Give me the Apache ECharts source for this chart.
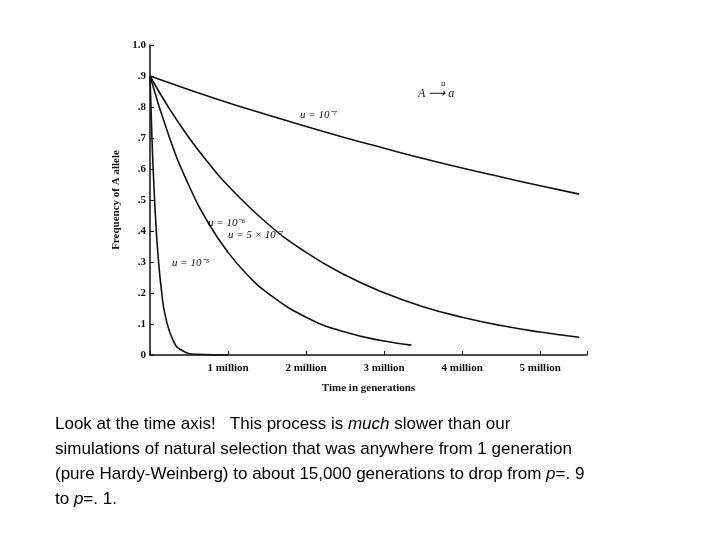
<!DOCTYPE html>
<html lang="en">
<head>
  <meta charset="UTF-8">
  <title>Mutation rate curves</title>
  <script src="https://cdn.jsdelivr.net/npm/echarts@6/dist/echarts.min.js"></script>
</head>
<body style="margin:0;background:#fff">
<div id="main" style="width:720px;height:540px"></div>
<script>
var tA = [0, 0.5, 1, 1.5, 2, 2.5, 3, 3.5, 4, 4.5, 5, 5.5];
var pA = [0.9, 0.856, 0.814, 0.775, 0.737, 0.701, 0.667, 0.634, 0.603, 0.574, 0.546, 0.519];
var tB = [0, 0.25, 0.5, 0.75, 1, 1.5, 2, 2.5, 3, 3.5, 4, 4.5, 5, 5.5];
var pB = [0.9, 0.794, 0.701, 0.619, 0.546, 0.425, 0.331, 0.258, 0.201, 0.156, 0.122, 0.095, 0.074, 0.057];
var tC = [0, 0.25, 0.5, 0.75, 1, 1.25, 1.5, 2, 2.5, 3, 3.35];
var pC = [0.9, 0.701, 0.546, 0.425, 0.331, 0.258, 0.201, 0.122, 0.074, 0.045, 0.032];
var tD = [0, 0.025, 0.05, 0.075, 0.1, 0.15, 0.2, 0.3, 0.4, 0.6, 1.0];
var pD = [0.9, 0.701, 0.546, 0.425, 0.331, 0.201, 0.122, 0.045, 0.016, 0.002, 0];
var yLabels = ['0', '.1', '.2', '.3', '.4', '.5', '.6', '.7', '.8', '.9', '1.0'];

function pairs(t, p) {
  return t.map(function (x, i) { return [x, p[i]]; });
}
function curve(t, p) {
  return { type: 'line', data: pairs(t, p), smooth: true, showSymbol: false,
    lineStyle: { color: '#111', width: 1.6 } };
}

var serif = 'Liberation Serif';
var chart = echarts.init(document.getElementById('main'));
chart.setOption({
  backgroundColor: '#fff',
  animation: false,
  grid: { left: 150, top: 45, width: 437, height: 310 },
  xAxis: {
    type: 'value', min: 0, max: 5.6, interval: 1,
    axisLine: { lineStyle: { color: '#111', width: 1.5 } },
    axisTick: { show: true, length: 4, inside: true, lineStyle: { color: '#111' } },
    splitLine: { show: false },
    axisLabel: { color: '#111', fontFamily: serif, fontSize: 11, fontWeight: 'bold',
      formatter: function (v) { return v >= 1 && v <= 5 ? v + ' million' : ''; } },
    name: 'Time in generations', nameLocation: 'middle', nameGap: 28,
    nameTextStyle: { color: '#111', fontFamily: serif, fontSize: 11, fontWeight: 'bold' }
  },
  yAxis: {
    type: 'value', min: 0, max: 1, interval: 0.1,
    axisLine: { show: true, lineStyle: { color: '#111', width: 1.5 } },
    axisTick: { show: true, length: 4, inside: true, lineStyle: { color: '#111' } },
    splitLine: { show: false },
    axisLabel: { color: '#111', fontFamily: serif, fontSize: 11, fontWeight: 'bold', margin: 4,
      formatter: function (v) { return yLabels[Math.round(v * 10)]; } },
    name: 'Frequency of A allele', nameLocation: 'middle', nameGap: 22,
    nameTextStyle: { color: '#111', fontFamily: serif, fontSize: 11, fontWeight: 'bold' }
  },
  series: [curve(tA, pA), curve(tB, pB), curve(tC, pC), curve(tD, pD)],
  graphic: [
    { type: 'text', left: 300, top: 110, style: { text: 'u = 10⁻⁷', font: 'italic 11px ' + serif, fill: '#111' } },
    { type: 'text', left: 228, top: 230, style: { text: 'u = 5 × 10⁻⁷', font: 'italic 11px ' + serif, fill: '#111' } },
    { type: 'text', left: 208, top: 218, style: { text: 'u = 10⁻⁶', font: 'italic 11px ' + serif, fill: '#111' } },
    { type: 'text', left: 172, top: 258, style: { text: 'u = 10⁻⁵', font: 'italic 11px ' + serif, fill: '#111' } },
    { type: 'text', left: 418, top: 88, style: { text: 'A ⟶ a', font: 'italic 12px ' + serif, fill: '#111' } },
    { type: 'text', left: 441, top: 79, style: { text: 'u', font: 'italic 9px ' + serif, fill: '#111' } },
    { type: 'text', left: 55, top: 412, style: {
      text: 'Look at the time axis!   This process is {i|much} slower than our\n' +
            'simulations of natural selection that was anywhere from 1 generation\n' +
            '(pure Hardy-Weinberg) to about 15,000 generations to drop from {i|p}=. 9\n' +
            'to {i|p}=. 1.',
      font: '17px Liberation Sans', fill: '#000', lineHeight: 25,
      rich: { i: { fontStyle: 'italic', fontSize: 17, fontFamily: 'Liberation Sans' } }
    } }
  ]
});
</script>
</body>
</html>
